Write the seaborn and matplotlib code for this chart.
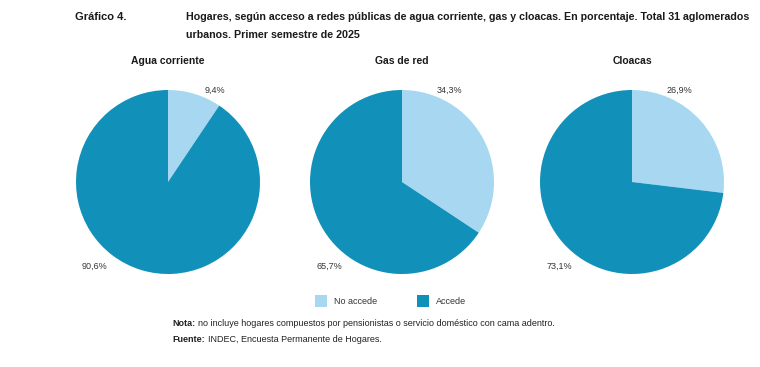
import matplotlib
matplotlib.use("Agg")
import matplotlib.pyplot as plt
import seaborn as sns
from matplotlib.patches import Rectangle

sns.set_theme(style="white")
plt.rcParams['font.family'] = ['Liberation Sans', 'DejaVu Sans']

panels = ["Agua corriente", "Gas de red", "Cloacas"]
no_accede = [9.4, 34.3, 26.9]
accede = [90.6, 65.7, 73.1]
categories = ["No accede", "Accede"]
colors = ["#a8d8f1", "#1190b9"]

W, H = 760, 367
fig = plt.figure(figsize=(W / 100, H / 100), dpi=100)
fig.patch.set_facecolor("white")
renderer = fig.canvas.get_renderer()

def fx(x):
    return x / W

def fy(y):
    return 1 - y / H

def width_px(t):
    return t.get_window_extent(renderer=renderer).width

def fit_text(x, y, s, target_w, size, **kw):
    t = fig.text(fx(x), fy(y), s, fontsize=size, **kw)
    w = width_px(t)
    t.set_fontsize(size * target_w / w)
    return t

def bold_lead(x, y, lead, rest, size, color):
    t = fig.text(fx(x), fy(y), lead, fontsize=size, fontweight="bold", ha="left",
                 va="center", color=color)
    w = width_px(t)
    fig.text(fx(x + w + 3), fy(y), rest, fontsize=size, ha="left", va="center", color=color)

centers = [168, 402, 632]
cy = 182
r = 92

title_kw = dict(fontweight="bold", va="center", ha="left", color="#1a1a1a")
fig.text(fx(75), fy(17), "Gráfico 4.", fontsize=8, **title_kw)
t2 = fit_text(186, 17,
              "Hogares, según acceso a redes públicas de agua corriente, gas y cloacas. En porcentaje. Total 31 aglomerados",
              563, 8, **title_kw)
fig.text(fx(186), fy(35), "urbanos. Primer semestre de 2025", fontsize=t2.get_fontsize(), **title_kw)

for i, (name, na, ac) in enumerate(zip(panels, no_accede, accede)):
    cx = centers[i]
    ax = fig.add_axes([fx(cx - r), fy(cy + r), 2 * r / W, 2 * r / H])
    ax.pie([na, ac], colors=colors, startangle=90, counterclock=False,
           wedgeprops=dict(linewidth=0), radius=1.0)
    ax.set_xlim(-1, 1)
    ax.set_ylim(-1, 1)
    ax.set_aspect("auto")
    ax.axis("off")
    fig.text(fx(cx), fy(61), name, ha="center", va="center", fontsize=7.5,
             fontweight="bold", color="#1a1a1a")
    lab_na = f"{na:.1f}%".replace(".", ",")
    lab_ac = f"{ac:.1f}%".replace(".", ",")
    fig.text(fx(cx + 47), fy(90), lab_na, ha="center", va="center", fontsize=6.5, color="#333333")
    fig.text(fx(cx - 73), fy(266), lab_ac, ha="center", va="center", fontsize=6.5, color="#333333")

# legend
for x0, lab, col in [(315, categories[0], colors[0]), (417, categories[1], colors[1])]:
    fig.patches.append(Rectangle((fx(x0), fy(307)), 12 / W, 12 / H, transform=fig.transFigure,
                                 facecolor=col, edgecolor="none"))
    fig.text(fx(x0 + 19), fy(301), lab, ha="left", va="center", fontsize=6.5, color="#333333")

bold_lead(172, 323, "Nota:", "no incluye hogares compuestos por pensionistas o servicio doméstico con cama adentro.",
          6.5, "#222222")
bold_lead(172, 340, "Fuente:", "INDEC, Encuesta Permanente de Hogares.", 6.5, "#222222")

fig.savefig("out.png", dpi=100, facecolor="white")
